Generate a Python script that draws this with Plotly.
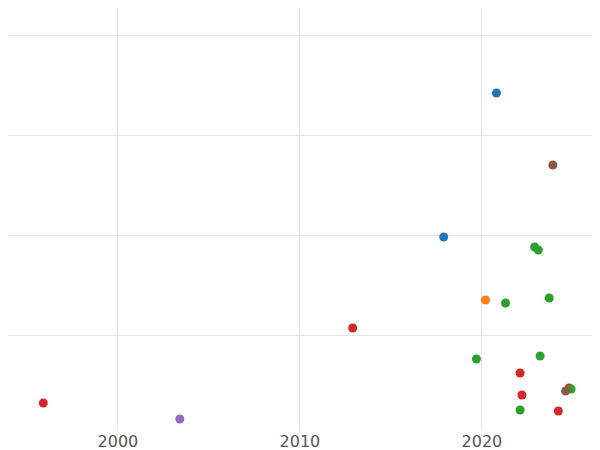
import plotly.graph_objects as go

colors = {"blue": "#1f77b4", "orange": "#ff7f0e", "green": "#2ca02c", "red": "#d62728", "purple": "#9467bd", "brown": "#8c564b"}
years = [2020.8, 2023.9, 2017.9, 2022.9, 2023.1, 2020.2, 2021.3, 2023.7, 2012.9, 2019.7,
         2023.2, 2022.1, 2024.8, 2024.9, 2024.6, 2022.2, 2022.1, 2024.2, 1995.9, 2003.4]
values = [3.42, 2.70, 1.98, 1.88, 1.85, 1.35, 1.32, 1.37, 1.07, 0.76,
          0.79, 0.62, 0.47, 0.46, 0.44, 0.40, 0.25, 0.24, 0.32, 0.16]
groups = ["blue", "brown", "blue", "green", "green", "orange", "green", "green", "red", "green",
          "green", "red", "red", "green", "brown", "red", "green", "red", "red", "purple"]

fig = go.Figure(go.Scatter(x=years, y=values, mode="markers",
                           marker=dict(size=9, color=[colors[g] for g in groups]),
                           showlegend=False))
fig.update_layout(width=600, height=450, margin=dict(l=0, r=0, t=0, b=28, autoexpand=False),
                  plot_bgcolor="white", paper_bgcolor="white",
                  font=dict(family="DejaVu Sans", size=16, color="#555"))
fig.update_xaxes(range=[1993.96, 2026.93], tickvals=[2000, 2010, 2020],
                 showgrid=True, gridcolor="#e5e5e5", zeroline=False, ticks="")
fig.update_yaxes(range=[0.05, 4.27], tickvals=[1, 2, 3, 4], showticklabels=False,
                 showgrid=True, gridcolor="#e5e5e5", zeroline=False)
fig.write_html("out.html")
